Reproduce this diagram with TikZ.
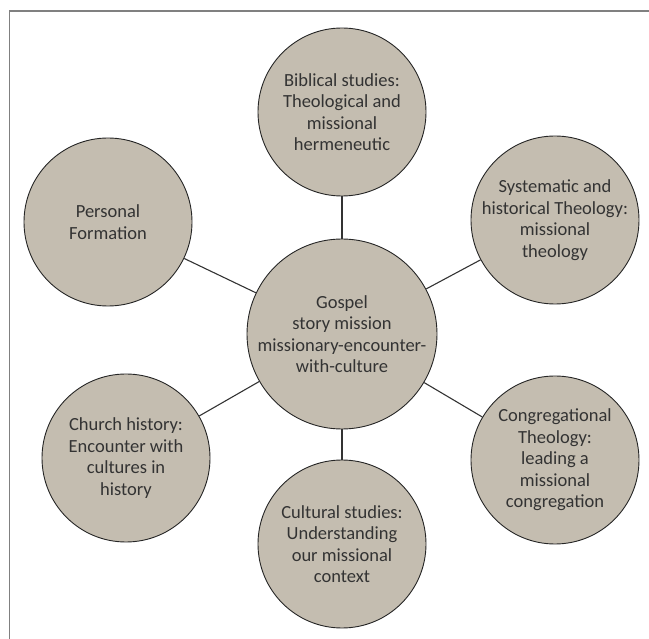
\documentclass[tikz,border=0pt]{standalone}
\usepackage{fontspec}
\setmainfont{Carlito}
\usepackage{xcolor}
\usetikzlibrary{positioning}

\definecolor{bubblefill}{HTML}{C4BDB0}
\definecolor{bubbletext}{HTML}{333333}
\definecolor{framegray}{HTML}{808080}

\begin{document}
\begin{tikzpicture}[
        x=1pt, y=-1pt,
        % Define block styles
        bubble/.style={draw=black!85, line width=0.9pt, circle, fill=bubblefill, minimum size=168pt, inner sep=0pt, align=center, text=bubbletext, font=\fontsize{18.5}{21.5}\selectfont},
        hub/.style={bubble, minimum size=190pt},
        link/.style={draw=black!80, line width=1.1pt}
    ]

    % Fix page to reference size
    \useasboundingbox (0,0) rectangle (649,639);
    \draw[framegray, line width=1.8pt] (9.5,639) -- (9.5,11) -- (649,11);

    % --- Nodes Placement ---
    \node[hub] (gospel) at (342,334) {Gospel\\story mission\\missionary-encounter-\\with-culture};

    \node[bubble] (biblical) at (342,112) {Biblical studies:\\Theological and\\missional\\hermeneutic};
    \node[bubble] (systematic) at (555,220) {Systematic and\\historical Theology:\\missional\\theology};
    \node[bubble] (congregational) at (555,460) {Congregational\\Theology:\\leading a\\missional\\congregation};
    \node[bubble] (cultural) at (342,544) {Cultural studies:\\Understanding\\our missional\\context};
    \node[bubble] (church) at (126,458) {Church history:\\Encounter with\\cultures in\\history};
    \node[bubble] (personal) at (108,222) {Personal\\Formation};

    % --- Connections ---
    \draw[link] (gospel) -- (biblical);
    \draw[link] (gospel) -- (systematic);
    \draw[link] (gospel) -- (congregational);
    \draw[link] (gospel) -- (cultural);
    \draw[link] (gospel) -- (church);
    \draw[link] (gospel) -- (personal);

    \end{tikzpicture}
\end{document}
